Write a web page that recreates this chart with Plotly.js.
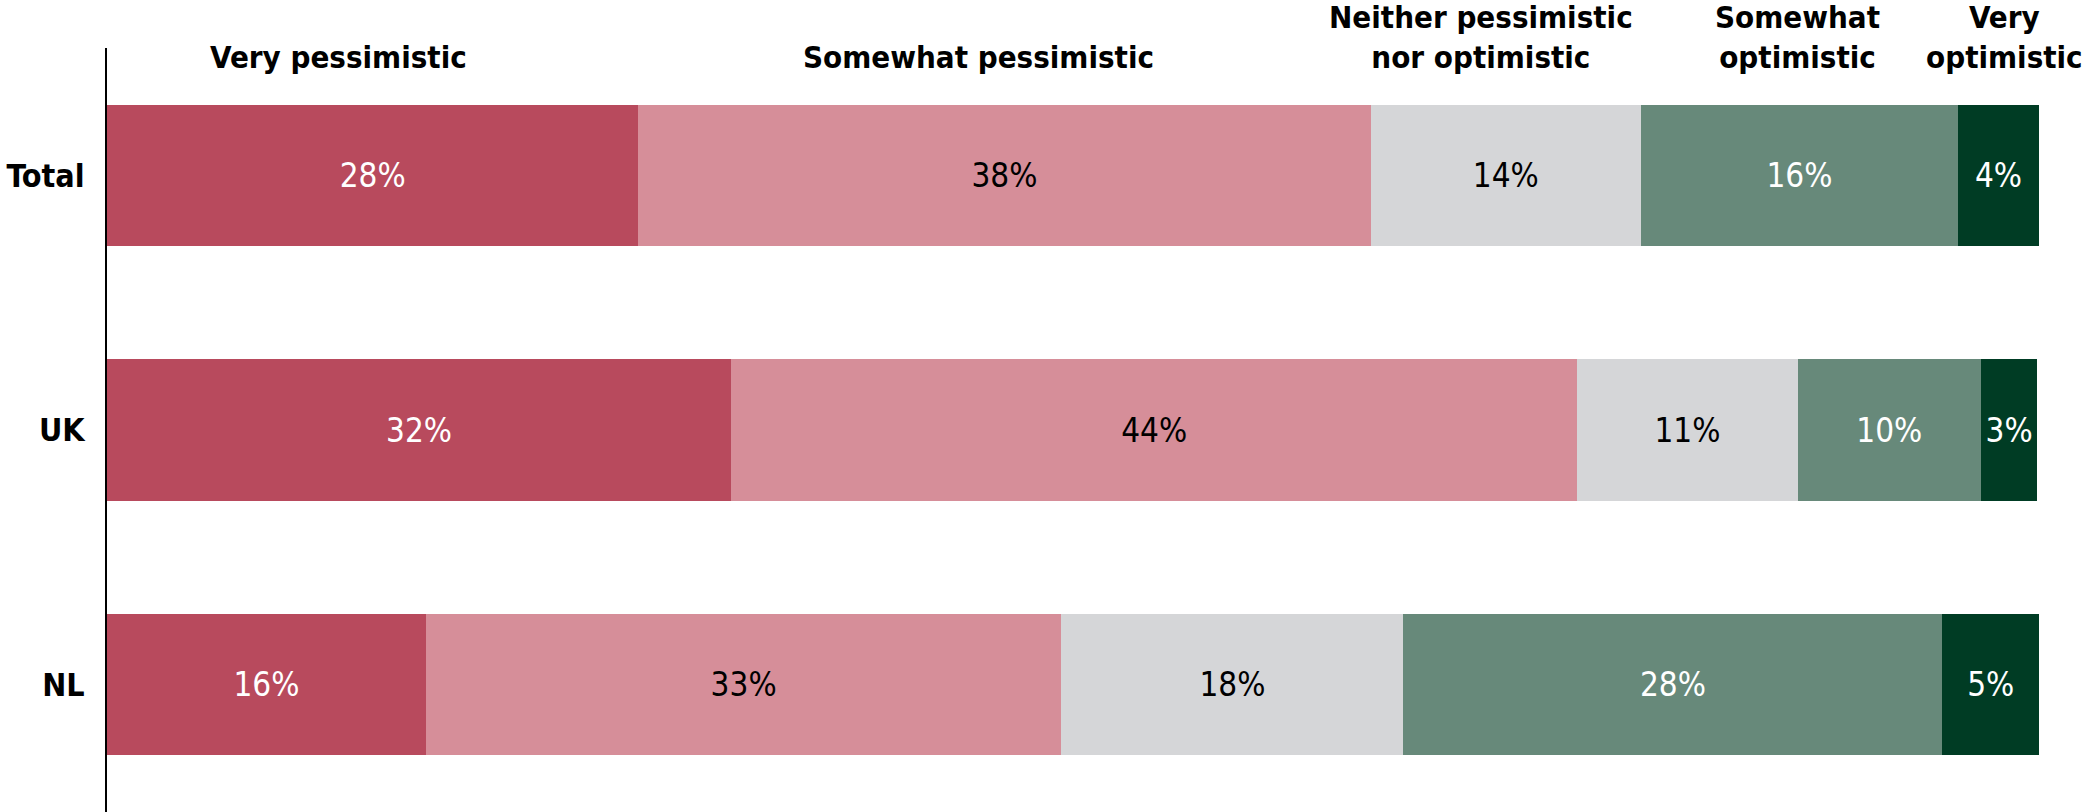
<!DOCTYPE html>
<html>
<head>
<meta charset="utf-8">
<script src="https://cdn.plot.ly/plotly-3.0.1.min.js"></script>
<style>html,body{margin:0;padding:0;background:#fff;}#chart{width:2087px;height:812px;}</style>
</head>
<body>
<div id="chart"></div>
<script>
// Categories (rows, top to bottom)
const groups = ['Total', 'UK', 'NL'];

// Response options (stack order, left to right)
const seriesNames = ['Very pessimistic', 'Somewhat pessimistic', 'Neither pessimistic<br>nor optimistic', 'Somewhat<br>optimistic', 'Very<br>optimistic'];

// Shares (percent)
const veryPessimistic     = [27.5, 32.3, 16.5];
const somewhatPessimistic = [37.9, 43.8, 32.9];
const neither             = [14.0, 11.4, 17.7];
const somewhatOptimistic  = [16.4,  9.5, 27.9];
const veryOptimistic      = [ 4.2,  2.9,  5.0];

// Labels printed on the bars
const veryPessimisticLbl     = ['28%', '32%', '16%'];
const somewhatPessimisticLbl = ['38%', '44%', '33%'];
const neitherLbl             = ['14%', '11%', '18%'];
const somewhatOptimisticLbl  = ['16%', '10%', '28%'];
const veryOptimisticLbl      = ['4%', '3%', '5%'];

const values = [veryPessimistic, somewhatPessimistic, neither, somewhatOptimistic, veryOptimistic];
const labels = [veryPessimisticLbl, somewhatPessimisticLbl, neitherLbl, somewhatOptimisticLbl, veryOptimisticLbl];
const colors = ['#B84A5D', '#D68E99', '#D5D6D8', '#67897A', '#003C24'];
const textColors = ['#FFFFFF', '#000000', '#000000', '#FFFFFF', '#FFFFFF'];
const headerX = [12.0, 45.1, 71.1, 87.5, 98.2];

const FONT = '"DejaVu Sans Condensed", "DejaVu Sans", sans-serif';

const traces = values.map((v, i) => ({
  type: 'bar',
  orientation: 'h',
  name: seriesNames[i],
  y: groups,
  x: v,
  text: labels[i],
  textposition: 'inside',
  insidetextanchor: 'middle',
  constraintext: 'none',
  textangle: 0,
  textfont: {family: FONT, size: 33, color: textColors[i]},
  marker: {color: colors[i], line: {width: 0}},
  hoverinfo: 'skip'
}));

const annotations = seriesNames.map((n, i) => ({
  text: '<b>' + n + '</b>',
  x: headerX[i],
  xref: 'x',
  y: 0.962,
  yref: 'paper',
  xanchor: 'center',
  yanchor: 'bottom',
  showarrow: false,
  align: 'center',
  font: {family: FONT, size: 31, color: '#000000'}
}));

const layout = {
  width: 2087,
  height: 812,
  margin: {l: 107, r: 48, t: 48, b: 0, pad: 0},
  paper_bgcolor: '#FFFFFF',
  plot_bgcolor: '#FFFFFF',
  barmode: 'stack',
  bargap: 0.446,
  showlegend: false,
  xaxis: {range: [0, 100], visible: false, fixedrange: true},
  yaxis: {
    type: 'category',
    categoryorder: 'array',
    categoryarray: groups,
    range: [2.5, -0.5],
    showline: true,
    linecolor: '#000000',
    linewidth: 2,
    showgrid: false,
    zeroline: false,
    ticks: '',
    ticklabelstandoff: 14,
    tickfont: {family: FONT, size: 32, color: '#000000', weight: 'bold'}
  },
  annotations: annotations,
  font: {family: FONT}
};

Plotly.newPlot('chart', traces, layout, {staticPlot: true, displayModeBar: false});
</script>
</body>
</html>
